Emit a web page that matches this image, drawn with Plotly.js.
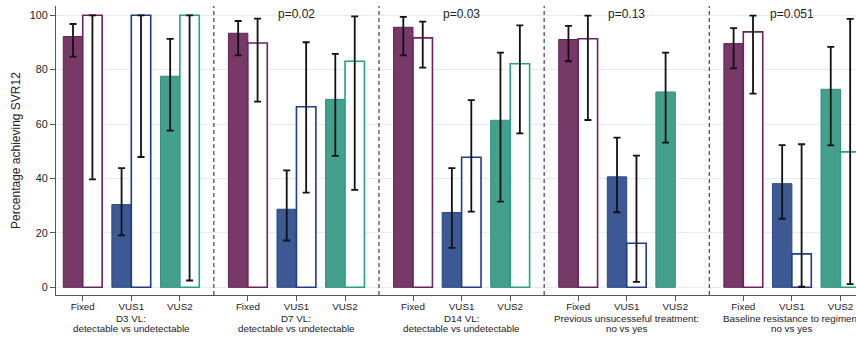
<!DOCTYPE html>
<html>
<head>
<meta charset="utf-8">
<script src="https://cdn.plot.ly/plotly-3.0.1.min.js"></script>
<style>
  html, body { margin: 0; padding: 0; background: #fff; overflow: hidden; }
  #chart { width: 856px; height: 337px; }
</style>
</head>
<body>
<div id="chart"></div>
<script>
// Regimen arms shown in every panel
const arms = ['Fixed', 'VUS1', 'VUS2'];

// Panel captions (two lines under the middle arm) and p-values
const panelLine1 = ['D3 VL:', 'D7 VL:', 'D14 VL:', 'Previous unsucesseful treatment:', 'Baseline resistance to regimen:'];
const panelLine2 = ['detectable vs undetectable', 'detectable vs undetectable', 'detectable vs undetectable', 'no vs yes', 'no vs yes'];
const pValues = ['', 'p=0.02', 'p=0.03', 'p=0.13', 'p=0.051'];

// First subgroup (detectable / no): % achieving SVR12 with 95% CI, panel by panel (Fixed, VUS1, VUS2)
const firstPct = [
  92.2, 30.4, 77.6,
  93.4, 28.7, 69.1,
  95.6, 27.5, 61.4,
  91.1, 40.6, 71.8,
  89.6, 38.1, 72.8
];
const firstLow = [
  84.8, 19.1, 57.6,
  85.3, 17.2, 48.3,
  85.3, 14.5, 31.5,
  83.1, 27.6, 53.2,
  80.5, 25.2, 52.2
];
const firstHigh = [
  96.8, 43.8, 91.3,
  97.9, 43.0, 85.8,
  99.4, 43.8, 86.3,
  96.1, 55.0, 86.3,
  95.3, 52.3, 88.4
];

// Second subgroup (undetectable / yes)
const secondPct = [
  100, 100, 100,
  89.8, 66.4, 83.1,
  91.7, 47.8, 82.2,
  91.4, 16.2, null,
  93.9, 12.3, 49.8
];
const secondLow = [
  39.7, 47.9, 2.5,
  68.3, 34.8, 35.8,
  80.8, 27.8, 56.6,
  61.5, 2.0, null,
  71.2, 0.2, 1.2
];
const secondHigh = [
  100, 100, 100,
  98.8, 90.1, 99.6,
  97.7, 68.8, 96.3,
  99.9, 48.4, null,
  99.9, 52.6, 98.7
];

// Styling per arm
const armFill = ['#763968', '#3c5994', '#43a08d'];
const armEdgeDark = ['#5f2454', '#2c4785', '#2f8f7c'];
const armOutline = ['#6a2460', '#1f3c8c', '#27a085'];

// Layout helpers: each panel is 3 arms wide plus a gap
const PANEL_STEP = 3.4;
const BAR_W = 0.4;
const nPanels = panelLine1.length;

const centers = [], tickText = [], fillCols = [], edgeCols = [], outCols = [];
for (let p = 0; p < nPanels; p++) {
  for (let g = 0; g < arms.length; g++) {
    centers.push(p * PANEL_STEP + g);
    tickText.push(arms[g]);
    fillCols.push(armFill[g]);
    edgeCols.push(armEdgeDark[g]);
    outCols.push(armOutline[g]);
  }
}

const diff = (a, b) => a.map((v, i) => (v == null || b[i] == null) ? null : +(v - b[i]).toFixed(2));

const errStyle = { type: 'data', symmetric: false, color: '#111', thickness: 1.8, width: 3.5 };

const traceFirst = {
  type: 'bar',
  x: centers.map(c => c - BAR_W / 2),
  y: firstPct,
  width: BAR_W,
  marker: { color: fillCols, line: { color: edgeCols, width: 1 } },
  error_y: Object.assign({}, errStyle, {
    array: diff(firstHigh, firstPct),
    arrayminus: diff(firstPct, firstLow)
  }),
  hoverinfo: 'y',
  showlegend: false
};

const traceSecond = {
  type: 'bar',
  x: centers.map(c => c + BAR_W / 2),
  y: secondPct,
  width: BAR_W,
  marker: { color: '#ffffff', line: { color: outCols, width: 1.6 } },
  error_y: Object.assign({}, errStyle, {
    array: diff(secondHigh, secondPct),
    arrayminus: diff(secondPct, secondLow)
  }),
  hoverinfo: 'y',
  showlegend: false
};

const FONT = 'Liberation Sans, Arial, Helvetica, sans-serif';

// Dashed separators between panels
const shapes = [];
for (let p = 0; p < nPanels - 1; p++) {
  shapes.push({
    type: 'line', xref: 'x', yref: 'paper',
    x0: p * PANEL_STEP + 2.7, x1: p * PANEL_STEP + 2.7, y0: 0, y1: 1,
    line: { color: '#444', width: 1.2, dash: '4px,3px' }
  });
}

const annotations = [];
for (let p = 0; p < nPanels; p++) {
  const xc = p * PANEL_STEP + 1;
  if (pValues[p]) {
    annotations.push({
      x: xc, y: 100.5, xref: 'x', yref: 'y', text: pValues[p], showarrow: false,
      xanchor: 'center', yanchor: 'middle', font: { family: FONT, size: 12, color: '#222' }
    });
  }
  annotations.push({
    x: xc, y: -0.0796, xref: 'x', yref: 'paper', text: panelLine1[p], showarrow: false,
    xanchor: 'center', yanchor: 'middle', borderpad: 0,
    font: { family: FONT, size: 9.8, color: '#222' }
  });
  annotations.push({
    x: xc, y: -0.1176, xref: 'x', yref: 'paper', text: panelLine2[p], showarrow: false,
    xanchor: 'center', yanchor: 'middle', borderpad: 0,
    font: { family: FONT, size: 9.8, color: '#222' }
  });
}

const layout = {
  width: 856,
  height: 337,
  margin: { l: 56, r: 0, t: 6, b: 42, pad: 0 },
  paper_bgcolor: '#ffffff',
  plot_bgcolor: '#ffffff',
  barmode: 'overlay',
  font: { family: FONT, color: '#222' },
  xaxis: {
    range: [-0.55, 15.92],
    tickmode: 'array',
    tickvals: centers,
    ticktext: tickText,
    ticks: 'outside',
    ticklen: 5,
    tickwidth: 1,
    tickcolor: '#555',
    ticklabelstandoff: -3,
    showline: true,
    linecolor: '#555',
    linewidth: 1,
    showgrid: false,
    zeroline: false,
    tickfont: { family: FONT, size: 9.8, color: '#222' },
    fixedrange: true
  },
  yaxis: {
    range: [-2.83, 103.42],
    tickmode: 'array',
    tickvals: [0, 20, 40, 60, 80, 100],
    ticks: 'outside',
    ticklen: 5,
    tickwidth: 1,
    tickcolor: '#555',
    showline: true,
    linecolor: '#555',
    linewidth: 1,
    showgrid: true,
    gridcolor: '#e5edf0',
    gridwidth: 1,
    zeroline: false,
    tickfont: { family: FONT, size: 10.8, color: '#222' },
    title: { text: 'Percentage achieving SVR12', font: { family: FONT, size: 12, color: '#222' }, standoff: 6 },
    fixedrange: true
  },
  shapes: shapes,
  annotations: annotations
};

Plotly.newPlot('chart', [traceFirst, traceSecond], layout, { displayModeBar: false, staticPlot: true });
</script>
</body>
</html>
